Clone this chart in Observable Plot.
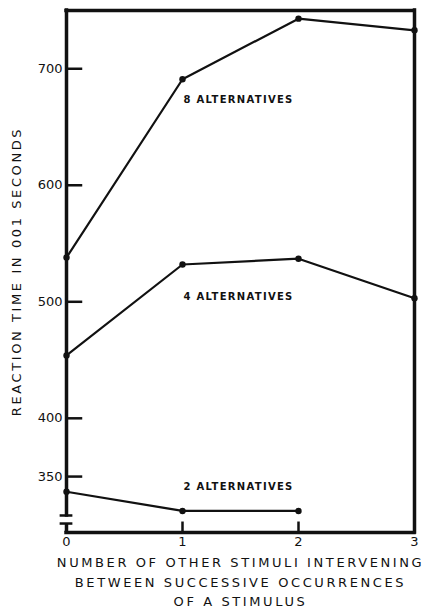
<!DOCTYPE html>
<html><head><meta charset="utf-8">
<script src="https://cdn.jsdelivr.net/npm/d3@7"></script>
<script src="https://cdn.jsdelivr.net/npm/@observablehq/plot@0.6"></script>
<style>body{margin:0;background:#fff}</style>
</head><body><div id="chart"></div>
<script>
const intervening = [0, 1, 2, 3];
const rt8 = [538, 691, 743, 733];
const rt4 = [454, 532, 537, 503];
const rt2 = [337, 320.5, 320.5];
const seriesNames = ["8 ALTERNATIVES", "4 ALTERNATIVES", "2 ALTERNATIVES"];
const labelY = [673, 504, 341];
const yTickValues = [350, 400, 500, 600, 700];
const xTickValues = [0, 1, 2, 3];
const yTitle = "REACTION TIME IN 001 SECONDS";
const xTitle = "NUMBER OF OTHER STIMULI INTERVENING\nBETWEEN SUCCESSIVE OCCURRENCES\nOF A STIMULUS";

const yMin = 302, yMax = 750;
const breakLo = 309.7, breakHi = 316.6;

const rows = [];
[rt8, rt4, rt2].forEach((vals, k) => vals.forEach((v, i) => rows.push({x: intervening[i], y: v, s: seriesNames[k]})));
const labels = seriesNames.map((s, k) => ({s, y: labelY[k]}));
const ink = "#111";

const chart = Plot.plot({
  width: 432, height: 611,
  marginLeft: 66, marginRight: 18, marginTop: 10, marginBottom: 79,
  style: {fontFamily: "DejaVu Sans", fontSize: "13px", background: "#fff", color: ink},
  x: {domain: [0, 3]},
  y: {domain: [yMin, yMax]},
  marks: [
    Plot.ruleY([yMax], {x1: 0, x2: 3, stroke: ink, strokeWidth: 3.5, strokeLinecap: "square"}),
    Plot.ruleY([yMin], {x1: 0, x2: 3, stroke: ink, strokeWidth: 3.5, strokeLinecap: "square"}),
    Plot.ruleX([3], {y1: yMin, y2: yMax, stroke: ink, strokeWidth: 3.5, strokeLinecap: "square"}),
    Plot.ruleX([0], {y1: breakHi, y2: yMax, stroke: ink, strokeWidth: 3.5, strokeLinecap: "square"}),
    Plot.ruleX([0], {y1: yMin, y2: breakLo, stroke: ink, strokeWidth: 3.5}),
    Plot.ruleY([breakLo, breakHi], {x1: -0.055, x2: 0.055, stroke: ink, strokeWidth: 2.5}),
    Plot.ruleY(yTickValues, {x1: 0, x2: 0.14, stroke: ink, strokeWidth: 2.5}),
    Plot.ruleX([1, 2], {y1: yMin, y2: 311, stroke: ink, strokeWidth: 2.5}),
    Plot.axisY({ticks: yTickValues, tickSize: 0, tickPadding: 4, fontSize: 13, label: yTitle, labelAnchor: "center", labelArrow: "none", labelOffset: 55}),
    Plot.axisX({ticks: xTickValues, tickSize: 0, tickPadding: 4, fontSize: 13, tickFormat: "d", label: null}),
    Plot.line(rows, {x: "x", y: "y", z: "s", stroke: ink, strokeWidth: 2.2}),
    Plot.dot(rows, {x: "x", y: "y", r: 3.2, fill: ink, stroke: "none"}),
    Plot.text(labels, {x: 1, y: "y", text: "s", textAnchor: "start", fontSize: 10, fontWeight: "bold", fill: ink, dx: 1}),
    Plot.text([xTitle], {frameAnchor: "bottom", dy: 21, lineAnchor: "top", lineHeight: 1.5, fontSize: 13, fill: ink})
  ]
});
d3.select(chart).selectAll("text").each(function() {
  const t = this.textContent;
  if (seriesNames.includes(t)) this.setAttribute("letter-spacing", "1.3px");
  else if (t === yTitle) this.setAttribute("letter-spacing", "2.6px");
  else if (t.startsWith("NUMBER")) this.setAttribute("letter-spacing", "2.6px");
});
document.getElementById("chart").append(chart);
</script>
</body></html>
